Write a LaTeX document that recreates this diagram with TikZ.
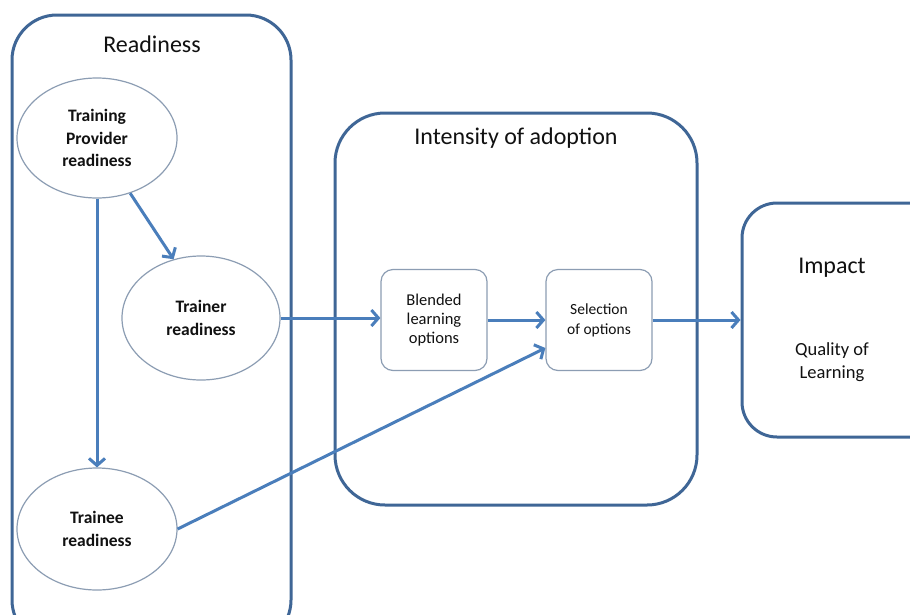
\documentclass[tikz,border=0pt]{standalone}
\usepackage{fontspec}
\setmainfont{Carlito}
\usetikzlibrary{shapes.geometric,arrows.meta}
\definecolor{boxblue}{HTML}{3F6696}
\definecolor{arrowblue}{HTML}{4A7EBB}
\definecolor{ellgray}{HTML}{8C9DB3}
\definecolor{txt}{HTML}{111111}
\tikzset{
  bigbox/.style={draw=boxblue, line width=3pt, rectangle, fill=white},
  oval/.style={draw=ellgray, line width=1.2pt, ellipse, inner sep=0pt, fill=white,
     font=\bfseries\fontsize{17.5}{22.5}\selectfont, text=txt, align=center},
  smallbox/.style={draw=ellgray, line width=1.2pt, rounded corners=12pt, fill=white,
     minimum width=106pt, minimum height=101pt, inner sep=0pt, align=center, text=txt},
  title/.style={font=\fontsize{24}{28}\selectfont, text=txt, align=center},
  link/.style={draw=arrowblue, line width=3pt, -{Straight Barb[length=7pt,width=16pt,line width=3pt]}},
}
\begin{document}
\begin{tikzpicture}[x=1pt,y=-1pt]
\useasboundingbox[fill=white] (0,0) rectangle (910,614);
% big boxes
\node[bigbox, rounded corners=45pt, minimum width=279pt, minimum height=630pt] (readybox) at (151.5,330) {};
\node[bigbox, rounded corners=50pt, minimum width=362pt, minimum height=392pt] (intbox) at (516,309) {};
\node[bigbox, rounded corners=35pt, minimum width=230pt, minimum height=234pt] (impact) at (857,320) {};
% titles
\node[title] (tready) at (152,44) {Readiness};
\node[title] (tint) at (516,138) {Intensity of adoption};
\node[title] (timp) at (832,268) {Impact};
\node[font=\fontsize{18.5}{23}\selectfont, text=txt, align=center] (qual) at (832,362) {Quality of\\Learning};
% ellipses
\node[oval, minimum width=160pt, minimum height=120pt] (provider) at (97,138) {Training\\Provider\\readiness};
\node[oval, minimum width=158pt, minimum height=124pt] (trainer) at (201,318) {Trainer\\readiness};
\node[oval, minimum width=160pt, minimum height=122pt] (trainee) at (97,529) {Trainee\\readiness};
% small boxes
\node[smallbox, font=\fontsize{16.5}{19}\selectfont] (blended) at (434,320) {Blended\\learning\\options};
\node[smallbox, font=\fontsize{15.5}{20}\selectfont] (selection) at (599,320) {Selection\\of options};
% connectors
\draw[link] (provider.-59) -- (trainer.115);
\draw[link] (provider.south) -- (trainee.north);
\draw[link] (trainer.east) -- (trainer.east -| blended.west);
\draw[link] (blended.east) -- (selection.west);
\draw[link] (trainee.east) -- ([yshift=-28pt]selection.west);
\draw[link] (selection.east) -- (selection.east -| impact.west);
\end{tikzpicture}
\end{document}
